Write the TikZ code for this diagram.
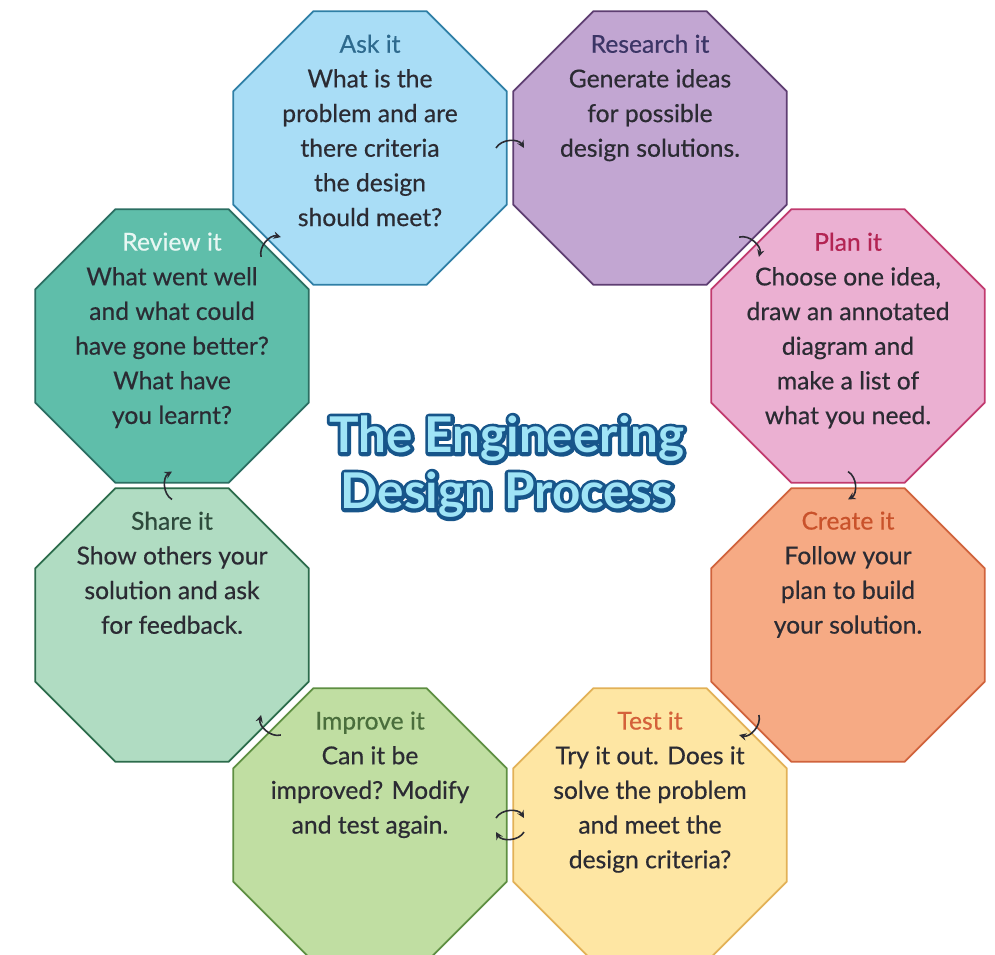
\documentclass[tikz,border=0pt]{standalone}
\usepackage{fontspec}
\setmainfont{Lato}
\newfontfamily\bodyfont{Lato}[FakeBold=0.5]
\newfontfamily\ttlfont{Lato Bold}
\newfontfamily\ttldark{Lato Bold}[FakeBold=14]
\newfontfamily\ttlwhite{Lato Bold}[FakeBold=24]
\usetikzlibrary{shapes.geometric,calc,arrows.meta}

\definecolor{askfill}{HTML}{A9DDF6}
\definecolor{askline}{HTML}{2F7FA6}
\definecolor{askhd}{HTML}{2E6A8E}
\definecolor{resfill}{HTML}{C2A6D2}
\definecolor{resline}{HTML}{5E3E72}
\definecolor{reshd}{HTML}{3B3566}
\definecolor{planfill}{HTML}{EBB0D2}
\definecolor{planline}{HTML}{C13A6E}
\definecolor{planhd}{HTML}{B32453}
\definecolor{crefill}{HTML}{F6AA84}
\definecolor{creline}{HTML}{D0633C}
\definecolor{crehd}{HTML}{C9522B}
\definecolor{testfill}{HTML}{FEE6A3}
\definecolor{testline}{HTML}{E2B157}
\definecolor{testhd}{HTML}{D4613A}
\definecolor{impfill}{HTML}{C0DEA2}
\definecolor{impline}{HTML}{5E8F42}
\definecolor{imphd}{HTML}{4A6E3C}
\definecolor{shafill}{HTML}{B0DCC2}
\definecolor{shaline}{HTML}{2C6C4C}
\definecolor{shahd}{HTML}{2E4A3C}
\definecolor{revfill}{HTML}{5FBEAA}
\definecolor{revline}{HTML}{2B6E62}
\definecolor{revhd}{HTML}{E8F7F3}
\definecolor{bodytext}{HTML}{2B2B33}
\definecolor{ttlfill}{HTML}{9FE4F6}
\definecolor{ttlline}{HTML}{17558A}

\begin{document}
\begin{tikzpicture}[x=0.75pt,y=-0.75pt,
    oct/.style={regular polygon,regular polygon sides=8,minimum size=222pt,
      inner sep=0pt,line width=1.4pt},
    txt/.style={anchor=north,align=center,inner sep=0pt,
      font=\bodyfont\fontsize{18.5}{26}\selectfont,text=bodytext},
    ttl/.style={align=center,inner sep=0pt,line join=round},
    flow/.style={-{Stealth[length=5.5pt,width=5.5pt]},line width=1.2pt,
      bend left=60,color=bodytext}]
  \useasboundingbox (0,0) rectangle (995,955);

  % the eight steps
  \node[oct,fill=askfill,draw=askline] (ask) at (370,148) {};
  \node[oct,fill=resfill,draw=resline] (research) at (650,148) {};
  \node[oct,fill=planfill,draw=planline] (plan) at (848,346) {};
  \node[oct,fill=crefill,draw=creline] (create) at (848,625) {};
  \node[oct,fill=testfill,draw=testline] (test) at (650,825) {};
  \node[oct,fill=impfill,draw=impline] (improve) at (370,825) {};
  \node[oct,fill=shafill,draw=shaline] (share) at (172,625) {};
  \node[oct,fill=revfill,draw=revline] (review) at (172,346) {};

  \node[txt] (askt) at ([yshift=-18pt]ask.north) {{\color{askhd}Ask it}\\What is the\\
    problem and are\\there criteria\\the design\\should meet?};
  \node[txt] (researcht) at ([yshift=-18pt]research.north) {{\color{reshd}Research it}\\
    Generate ideas\\for possible\\design solutions.};
  \node[txt] (plant) at ([yshift=-18pt]plan.north) {{\color{planhd}Plan it}\\
    Choose one idea,\\draw an annotated\\diagram and\\make a list of\\what you need.};
  \node[txt] (createt) at ([yshift=-18pt]create.north) {{\color{crehd}Create it}\\
    Follow your\\plan to build\\your solution.};
  \node[txt] (testt) at ([yshift=-18pt]test.north) {{\color{testhd}Test it}\\
    Try it out. Does it\\solve the problem\\and meet the\\design criteria?};
  \node[txt] (improvet) at ([yshift=-18pt]improve.north) {{\color{imphd}Improve it}\\
    Can it be\\improved? Modify\\and test again.};
  \node[txt] (sharet) at ([yshift=-18pt]share.north) {{\color{shahd}Share it}\\
    Show others your\\solution and ask\\for feedback.};
  \node[txt] (reviewt) at ([yshift=-18pt]review.north) {{\color{revhd}Review it}\\
    What went well\\and what could\\have gone better?\\What have\\you learnt?};

  % title: white halo, dark outline, light letters
  \coordinate (title) at (507,467);
  \def\ttltext{The Engineering\\Design Process}
  \node[ttl,text=white,font=\ttlwhite\fontsize{37}{42}\selectfont] (ttlw) at (title) {\ttltext};
  \node[ttl,text=ttlline,font=\ttldark\fontsize{37}{42}\selectfont] (ttlb) at (title) {\ttltext};
  \node[ttl,text=ttlfill,font=\ttlfont\fontsize{37}{42}\selectfont] (ttlc) at (title) {\ttltext};

  % arrows between steps
  \draw[flow] ($(ask)!0.45!(research)$) to ($(ask)!0.55!(research)$);
  \draw[flow] ($(research)!0.45!(plan)$) to ($(research)!0.55!(plan)$);
  \draw[flow] ($(plan)!0.45!(create)$) to ($(plan)!0.55!(create)$);
  \draw[flow] ($(create)!0.45!(test)$) to ($(create)!0.55!(test)$);
  \draw[flow] ($(improve)!0.45!(test)+(0,-7)$) to ($(improve)!0.55!(test)+(0,-7)$);
  \draw[flow] ($(test)!0.45!(improve)+(0,7)$) to ($(test)!0.55!(improve)+(0,7)$);
  \draw[flow] ($(improve)!0.45!(share)$) to ($(improve)!0.55!(share)$);
  \draw[flow] ($(share)!0.45!(review)$) to ($(share)!0.55!(review)$);
  \draw[flow] ($(review)!0.45!(ask)$) to ($(review)!0.55!(ask)$);
\end{tikzpicture}
\end{document}
